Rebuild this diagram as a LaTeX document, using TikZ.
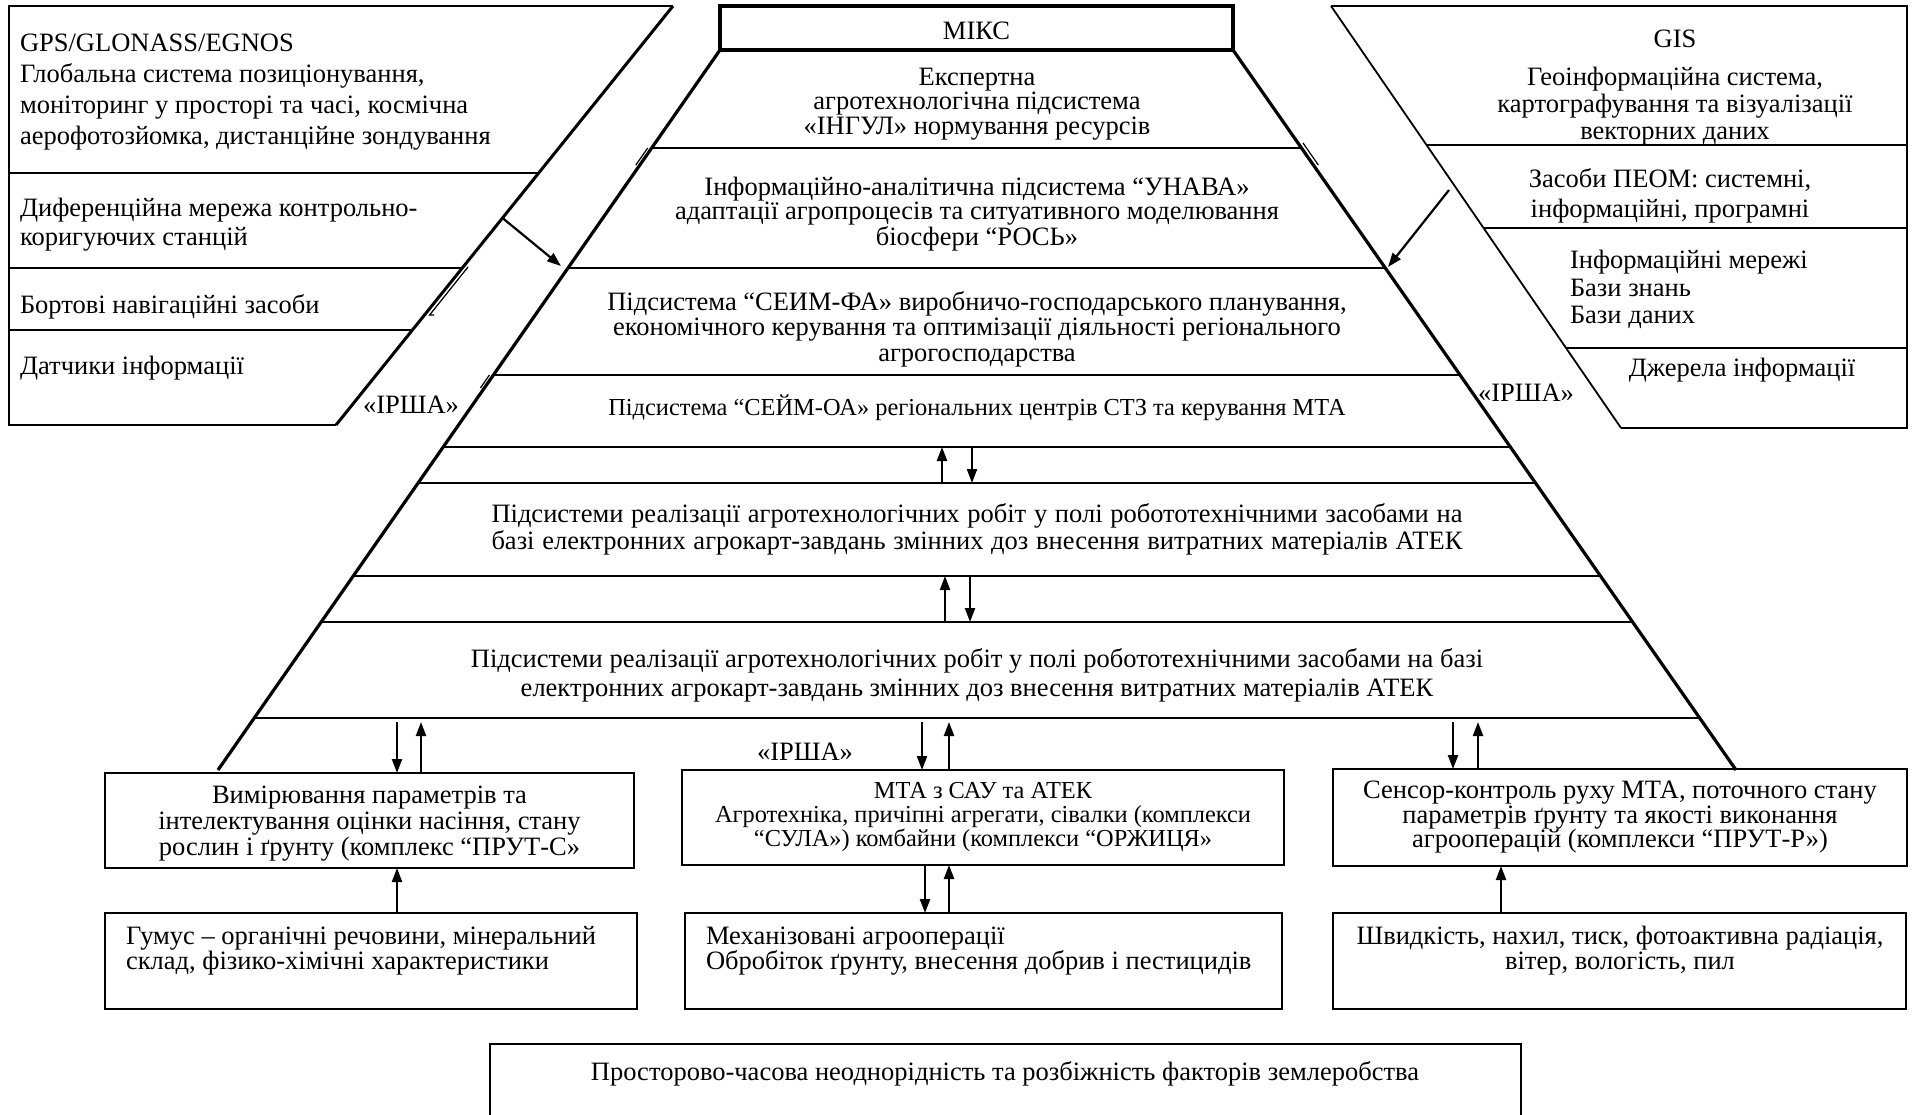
\documentclass[tikz,border=0pt]{standalone}
\usepackage{fontspec}
\setmainfont{Liberation Serif}
\usetikzlibrary{arrows.meta,calc}
\newcommand\myfs[2]{\fontsize{#1}{#2}\selectfont}
\newcommand\lowr[1]{\raisebox{-3pt}[\height][\depth]{#1}}
\begin{document}
\begin{tikzpicture}[x=1pt,y=-1pt,
  every node/.style={inner sep=0pt, outer sep=0pt, font=\myfs{26.5}{26.5}},
  txt/.style={align=center},
  ltxt/.style={align=left, anchor=west},
  box/.style={draw, line width=2.2pt, align=center},
  thinl/.style={line width=1.8pt},
  edgel/.style={line width=3.2pt},
  hl/.style={line width=2.2pt},
  artf/.style={line width=1.2pt},
  arr/.style={line width=2.2pt, -{Triangle[length=14pt,width=10pt]}},
  ]
\useasboundingbox (0,0) rectangle (1914,1115);
\clip (0,0) rectangle (1914,1115);
\fill[white] (0,0) rectangle (1914,1115);

% ---------- left block ----------
\coordinate (LA) at (673,6);
\coordinate (LZ) at (336,425);
\draw[thinl] (LZ) -- (9,425) -- (9,6) -- (LA);
\draw[line width=3pt] (LA) -- (LZ);
\foreach \y/\f in {173/0.3986, 268/0.6253, 330/0.7733}
  \draw[thinl] (9,\y) -- ($(LA)!\f!(LZ)$);
\draw[artf] (468,267) -- (429.6,315) -- (434,315);

\node[ltxt, font=\myfs{26.5}{30.8}] (gps) at (20,92) {GPS/GLONASS/EGNOS\\Глобальна система позиціонування,\\моніторинг у просторі та часі, космічна\\аерофотозйомка, дистанційне зондування};
\node[ltxt, font=\myfs{26.5}{29}] (dif) at (20,225) {Диференційна мережа контрольно-\\коригуючих станцій};
\node[ltxt] (bort) at (20,307) {Бортові навігаційні засоби};
\node[ltxt] (dat) at (20,368) {Датчики інформації};
\node (irshaL) at (411,405) {«ІРША»};

% ---------- right block ----------
\coordinate (RA) at (1331,6);
\coordinate (RZ) at (1621,428);
\draw[thinl] (RA) -- (1907,6) -- (1907,428) -- (RZ);
\draw[line width=1.8pt] (RA) -- (RZ);
\foreach \y/\f in {145/0.3294, 228/0.5261, 348/0.8104}
  \draw[thinl] ($(RA)!\f!(RZ)$) -- (1907,\y);

\node[txt, font=\myfs{26.5}{27}] (gis) at (1675,88) {GIS\\[11pt]Геоінформаційна система,\\картографування та візуалізації\\векторних даних};
\node[txt, font=\myfs{26.5}{30.5}] (zas) at (1670,196) {Засоби ПЕОМ: системні,\\інформаційні, програмні};
\node[ltxt, font=\myfs{26.5}{27.5}] (inf) at (1570,289.5) {Інформаційні мережі\\Бази знань\\Бази даних};
\node (dzh) at (1742,370) {Джерела інформації};
\node (irshaR) at (1526,393) {«ІРША»};

% ---------- pyramid ----------
\node[draw, line width=3.5pt, minimum width=513pt, minimum height=44pt] (miks) at (976.5,28) {\lowr{МІКС}};
\coordinate (PLT) at (miks.south west);
\coordinate (PRT) at (miks.south east);
\coordinate (PLB) at (218,770);
\coordinate (PRB) at (1736,770);
\draw[edgel] (PLT) -- (PLB);
\draw[edgel] (PRT) -- (PRB);
\foreach \f in {0.1361,0.3028,0.4514,0.5514,0.6014,0.7306,0.7944}
  \draw[hl] ($(PLT)!\f!(PLB)$) -- ($(PRT)!\f!(PRB)$);
\draw[line width=2.6pt] ($(PLT)!0.9278!(PLB)$) -- ($(PRT)!0.9278!(PRB)$);
\draw[artf] (647.7,148) -- (635.8,165);
\draw[artf] (489.4,375) -- (480.4,388);
\draw[artf] (1303,143) -- (1318.3,165);

\node[txt, font=\myfs{26.5}{24.5}] (expert) at (977,104) {Експертна\\агротехнологічна підсистема\\«ІНГУЛ» нормування ресурсів};
\node[txt, font=\myfs{26.5}{21.5}] (unava) at (977,214) {Інформаційно-аналітична підсистема “УНАВА»\\адаптації агропроцесів та ситуативного моделювання\\біосфери “РОСЬ»};
\node[txt, font=\myfs{26.5}{25.5}] (seimfa) at (977,329) {Підсистема “СЕИМ-ФА» виробничо-господарського планування,\\економічного керування та оптимізації діяльності регіонального\\агрогосподарства};
\node[txt, font=\myfs{24.4}{24}] (seimoa) at (977,408) {Підсистема “СЕЙМ-ОА» регіональних центрів СТЗ та керування МТА};
\node[txt, font=\myfs{26.5}{27}] (real1) at (977,529) {\makebox[971pt][s]{Підсистеми реалізації агротехнологічних робіт у полі робототехнічними засобами на}\\\makebox[971pt][s]{базі електронних агрокарт-завдань змінних доз внесення витратних матеріалів АТЕК}};
\node[txt, font=\myfs{26.5}{29}] (real2) at (977,675) {Підсистеми реалізації агротехнологічних робіт у полі робототехнічними засобами на базі\\електронних агрокарт-завдань змінних доз внесення витратних матеріалів АТЕК};

% diagonal input arrows
\coordinate (dLs) at ($(LA)!0.506!(LZ)$);
\coordinate (dLe) at (561,266);
\coordinate (dRs) at (1449,190);
\coordinate (dRe) at (1388,267);
\draw[arr] (dLs) -- (dLe);
\draw[arr] (dRs) -- (dRe);

% arrows inside the pyramid gaps
\coordinate (g1t) at (0,447); \coordinate (g1b) at (0,483);
\coordinate (g2t) at (0,576); \coordinate (g2b) at (0,622);
\coordinate (xi) at (942,0); \coordinate (xj) at (972,0);
\coordinate (xk) at (945,0); \coordinate (xl) at (970,0);
\draw[arr] (xi |- g1b) -- (xi |- g1t);
\draw[arr] (xj |- g1t) -- (xj |- g1b);
\draw[arr] (xk |- g2b) -- (xk |- g2t);
\draw[arr] (xl |- g2t) -- (xl |- g2b);

% ---------- bottom boxes ----------
\node[box, minimum width=529pt, minimum height=95pt, font=\myfs{26.5}{26}] (meas) at (369.5,820.5) {\lowr{Вимірювання параметрів та}\\\lowr{інтелектування оцінки насіння, стану}\\\lowr{рослин і ґрунту (комплекс “ПРУТ-С»}};
\node[box, minimum width=602pt, minimum height=95pt, font=\myfs{24.4}{24}] (mta) at (983,817.5) {МТА з САУ та АТЕК\\Агротехніка, причіпні агрегати, сівалки (комплекси\\“СУЛА») комбайни (комплекси “ОРЖИЦЯ»};
\node[box, minimum width=574pt, minimum height=97pt, font=\myfs{26.5}{24.5}] (sens) at (1620,817.5) {Сенсор-контроль руху МТА, поточного стану\\параметрів ґрунту та якості виконання\\агрооперацій (комплекси “ПРУТ-Р»)};
\node (irshaM) at (805,752) {«ІРША»};

\node[box, minimum width=532pt, minimum height=96pt] (hum) at (371,961) {};
\node[ltxt, font=\myfs{26.5}{25}] (humt) at (126,951) {Гумус – органічні речовини, мінеральний\\склад, фізико-хімічні характеристики};
\node[box, minimum width=597pt, minimum height=96pt] (mech) at (983.5,961) {};
\node[ltxt, font=\myfs{26.5}{25}] (mecht) at (706,951.5) {Механізовані агрооперації\\Обробіток ґрунту, внесення добрив і пестицидів};
\node[box, minimum width=573pt, minimum height=96pt] (shv) at (1619.5,961) {};
\node[txt, font=\myfs{26.5}{25}] (shvt) at (1620,951) {Швидкість, нахил, тиск, фотоактивна радіація,\\вітер, вологість, пил};

\node[box, minimum width=1031pt, minimum height=100pt] (prost) at (1005.5,1094) {};
\node (prostt) at (1005,1074) {Просторово-часова неоднорідність та розбіжність факторів землеробства};

% arrows between pyramid and boxes
\coordinate (Lbot) at (0,722);
\coordinate (xa) at (397,0); \coordinate (xb) at (421,0);
\coordinate (xc) at (922,0); \coordinate (xd) at (949,0);
\coordinate (xe) at (925,0);
\coordinate (xf) at (1453,0); \coordinate (xg) at (1478,0);
\coordinate (xh) at (1501,0);
\draw[arr] (xa |- Lbot) -- (xa |- meas.north);
\draw[arr] (xb |- meas.north) -- (xb |- Lbot);
\draw[arr] (xc |- Lbot) -- (xc |- mta.north);
\draw[arr] (xd |- mta.north) -- (xd |- Lbot);
\draw[arr] (xf |- Lbot) -- (xf |- sens.north);
\draw[arr] (xg |- sens.north) -- (xg |- Lbot);
\draw[arr] (xe |- mta.south) -- (xe |- mech.north);
\draw[arr] (xd |- mech.north) -- (xd |- mta.south);
\draw[arr] (xa |- hum.north) -- (xa |- meas.south);
\draw[arr] (xh |- shv.north) -- (xh |- sens.south);
\end{tikzpicture}
\end{document}
